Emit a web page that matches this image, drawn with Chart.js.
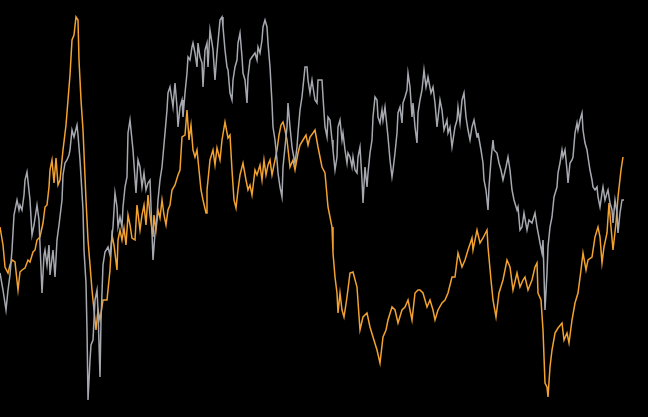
<!DOCTYPE html>
<html>
<head>
<meta charset="utf-8">
<title>Two series</title>
<script src="https://cdn.jsdelivr.net/npm/chart.js@4/dist/chart.umd.min.js"></script>
<style>
  html, body { margin: 0; padding: 0; background: #000; }
  #wrap { width: 648px; height: 417px; position: relative; }
</style>
</head>
<body>
<div id="wrap"><canvas id="lines"></canvas></div>
<script>
// values (depth from the top, so the y scale is reversed)
var grayDays = [0, 3, 6, 8, 10, 12, 14, 17, 19, 20, 22, 24, 25, 27, 30, 32, 34, 37, 39, 42, 44, 45, 47, 49, 50, 53, 55, 57, 59, 62,
  63, 65, 67, 69, 70, 72, 74, 77, 78, 80, 83, 84, 86, 87, 88, 90, 91, 93, 95, 97, 98, 100, 101, 103, 105, 108, 110, 113, 115, 117,
  118, 120, 122, 123, 125, 127, 128, 130, 132, 133, 136, 138, 140, 142, 144, 146, 148, 150, 152, 153, 155, 157, 158, 160, 162, 165, 167, 168, 170, 172,
  173, 175, 177, 178, 180, 182, 183, 185, 187, 188, 190, 192, 193, 195, 197, 198, 200, 202, 203, 205, 207, 208, 210, 212, 213, 215, 217, 220, 222, 223,
  225, 227, 228, 230, 232, 233, 235, 237, 238, 240, 242, 243, 245, 247, 248, 250, 252, 255, 257, 258, 260, 262, 263, 265, 267, 268, 270, 272, 273, 275,
  277, 278, 280, 282, 283, 285, 287, 288, 290, 292, 293, 295, 297, 298, 300, 302, 303, 305, 307, 308, 310, 312, 313, 315, 317, 318, 322, 323, 325, 327,
  328, 330, 332, 333, 335, 337, 338, 340, 342, 343, 345, 347, 348, 350, 352, 353, 355, 357, 358, 360, 362, 363, 365, 367, 368, 370, 372, 373, 375, 377,
  378, 380, 382, 383, 385, 387, 388, 390, 392, 393, 395, 397, 398, 400, 402, 403, 405, 407, 408, 410, 412, 413, 415, 417, 418, 420, 422, 424, 426, 428,
  431, 433, 435, 437, 440, 442, 444, 447, 448, 450, 452, 455, 457, 458, 460, 462, 464, 466, 468, 470, 472, 474, 477, 478, 481, 483, 484, 486, 488, 489,
  491, 493, 494, 497, 499, 501, 503, 506, 508, 510, 512, 514, 517, 518, 520, 522, 524, 527, 529, 532, 535, 537, 540, 542, 543, 545, 547, 548, 550, 552,
  554, 557, 558, 560, 562, 563, 565, 567, 568, 570, 572, 573, 575, 577, 578, 580, 582, 583, 585, 587, 588, 590, 592, 593, 595, 597, 598, 600, 602, 603,
  605, 607, 608, 610, 612, 613, 615, 617, 618, 620, 622, 624]
var grayValues = [273, 290, 310, 290, 275, 250, 215, 200, 210, 205, 210, 195, 180, 172, 200, 235, 225, 205, 220, 293, 255, 250, 265, 245, 275, 250, 277, 240, 225, 200,
  175, 163, 160, 155, 150, 130, 137, 125, 135, 160, 210, 250, 283, 330, 400, 360, 345, 340, 300, 290, 310, 377, 320, 265, 252, 247, 255, 227, 193, 207,
  227, 217, 227, 207, 187, 177, 133, 120, 140, 150, 193, 160, 167, 187, 173, 190, 183, 180, 233, 260, 233, 217, 200, 180, 167, 133, 110, 93, 87, 100,
  107, 83, 107, 127, 107, 100, 117, 93, 73, 57, 60, 47, 43, 53, 67, 43, 57, 63, 87, 50, 43, 67, 30, 43, 50, 80, 53, 20, 17, 27,
  50, 67, 70, 93, 100, 80, 67, 60, 43, 33, 57, 73, 80, 103, 77, 60, 57, 53, 60, 47, 53, 40, 27, 20, 27, 43, 67, 103, 127, 140,
  160, 173, 187, 197, 167, 147, 127, 103, 127, 147, 153, 163, 147, 133, 110, 97, 87, 67, 67, 80, 93, 80, 87, 100, 103, 80, 80, 97, 127, 137,
  117, 120, 140, 150, 170, 157, 127, 120, 140, 133, 150, 163, 153, 157, 167, 157, 170, 173, 157, 147, 180, 203, 167, 187, 173, 153, 140, 117, 97, 100,
  117, 123, 110, 120, 107, 127, 137, 160, 177, 170, 153, 133, 113, 107, 123, 103, 97, 90, 73, 87, 117, 103, 127, 143, 113, 100, 90, 70, 87, 77,
  93, 87, 103, 127, 100, 110, 130, 120, 133, 127, 147, 127, 120, 107, 123, 100, 93, 117, 130, 140, 127, 120, 137, 133, 150, 163, 180, 190, 210, 187,
  160, 140, 150, 153, 163, 170, 180, 167, 157, 170, 190, 200, 210, 207, 230, 227, 213, 230, 220, 223, 213, 227, 243, 253, 240, 310, 273, 247, 227, 217,
  197, 187, 173, 163, 150, 157, 150, 170, 183, 163, 160, 157, 133, 123, 130, 120, 113, 130, 143, 150, 157, 170, 180, 187, 190, 187, 197, 207, 193, 187,
  200, 193, 190, 203, 210, 223, 200, 213, 233, 213, 200, 200]

var orangeDays = [0, 3, 5, 8, 10, 12, 15, 18, 20, 22, 25, 28, 30, 33, 35, 37, 40, 43, 45, 47, 49, 50, 52, 54, 56, 58, 60, 63, 66, 68,
  70, 72, 74, 76, 78, 79, 81, 83, 86, 88, 90, 92, 94, 96, 98, 100, 103, 107, 110, 112, 114, 117, 118, 120, 122, 124, 126, 128, 130, 132,
  135, 137, 140, 142, 144, 146, 148, 150, 153, 154, 156, 158, 160, 162, 164, 166, 168, 170, 172, 175, 178, 180, 182, 185, 187, 189, 191, 193, 195, 197,
  199, 201, 203, 206, 207, 209, 210, 213, 215, 217, 220, 222, 225, 228, 230, 232, 234, 236, 238, 240, 243, 246, 248, 250, 252, 255, 257, 260, 262, 264,
  266, 268, 270, 272, 275, 277, 279, 281, 283, 285, 287, 290, 293, 295, 298, 300, 303, 306, 308, 310, 313, 315, 318, 322, 325, 328, 332, 333, 335, 337,
  338, 340, 342, 344, 347, 350, 353, 357, 360, 363, 367, 370, 373, 377, 380, 383, 386, 388, 392, 395, 398, 402, 405, 408, 412, 415, 418, 420, 423, 427,
  430, 433, 435, 438, 442, 445, 448, 452, 455, 458, 462, 465, 468, 472, 473, 477, 480, 483, 487, 488, 491, 493, 496, 499, 503, 507, 510, 513, 517, 520,
  523, 525, 528, 532, 535, 537, 538, 541, 543, 545, 547, 548, 550, 552, 555, 558, 562, 564, 567, 569, 572, 575, 578, 581, 583, 586, 588, 592, 595, 598,
  600, 602, 604, 607, 609, 611, 613, 616, 618, 621, 623]
var orangeValues = [227, 245, 267, 273, 265, 260, 262, 290, 272, 270, 268, 260, 262, 252, 250, 240, 237, 223, 207, 205, 187, 170, 160, 183, 158, 185, 180, 150, 125, 100,
  75, 40, 35, 17, 20, 60, 100, 130, 200, 240, 265, 290, 310, 330, 310, 320, 300, 300, 270, 235, 245, 270, 240, 230, 240, 228, 245, 215, 225, 238,
  240, 205, 230, 215, 205, 225, 195, 215, 237, 215, 230, 210, 218, 200, 215, 225, 210, 205, 190, 185, 175, 170, 137, 135, 110, 140, 125, 150, 157, 150,
  170, 190, 200, 213, 190, 170, 160, 150, 165, 148, 160, 140, 122, 138, 135, 170, 200, 208, 190, 175, 163, 180, 190, 185, 195, 170, 175, 165, 180, 160,
  175, 165, 160, 175, 160, 150, 135, 125, 122, 130, 140, 167, 160, 170, 153, 145, 140, 135, 145, 137, 133, 130, 147, 167, 173, 207, 227, 253, 277, 293,
  313, 293, 310, 317, 297, 273, 272, 287, 330, 317, 313, 327, 337, 350, 363, 337, 330, 320, 307, 310, 323, 310, 307, 300, 320, 293, 290, 290, 293, 307,
  300, 310, 320, 310, 303, 300, 293, 277, 277, 253, 267, 260, 250, 238, 250, 230, 243, 238, 230, 247, 280, 300, 317, 293, 280, 260, 267, 290, 273, 287,
  280, 277, 290, 280, 267, 263, 293, 300, 330, 383, 387, 397, 367, 350, 333, 328, 323, 340, 333, 343, 320, 303, 293, 270, 253, 270, 260, 257, 237, 227,
  237, 263, 247, 233, 203, 227, 250, 223, 197, 170, 157]

function toPoints (days, values) {
  var points = []
  for (var i = 0; i < days.length; i++) {
    points.push({x: days[i], y: values[i]})
  }
  return points
}

var ctx = document.getElementById('lines').getContext('2d')
new Chart(ctx, {
  type: 'line',
  data: {
    datasets: [
      {label: 'Gray', data: toPoints(grayDays, grayValues), borderColor: '#a7a9b1', borderWidth: 1.5},
      {label: 'Orange', data: toPoints(orangeDays, orangeValues), borderColor: '#f3a230', borderWidth: 1.5}
    ]
  },
  options: {
    responsive: true,
    maintainAspectRatio: false,
    animation: false,
    layout: {padding: 0},
    elements: {point: {radius: 0}, line: {tension: 0}},
    plugins: {legend: {display: false}, tooltip: {enabled: false}},
    scales: {
      x: {type: 'linear', min: 0, max: 648, display: false},
      y: {min: 0, max: 417, reverse: true, display: false}
    }
  }
})
</script>
</body>
</html>
